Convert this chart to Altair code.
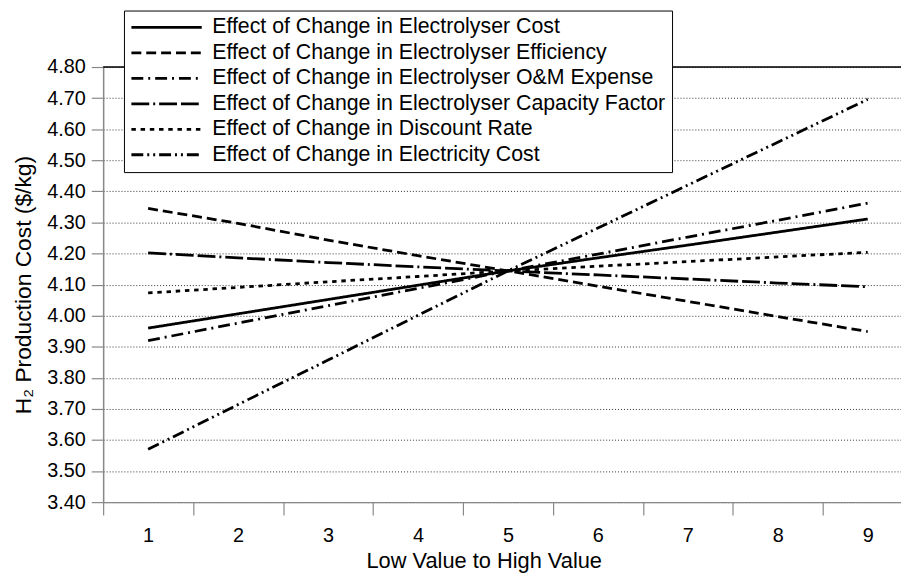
import altair as alt
import pandas as pd

x_values = [1, 2, 3, 4, 5, 6, 7, 8, 9]
series_names = [
    "Effect of Change in Electrolyser Cost",
    "Effect of Change in Electrolyser Efficiency",
    "Effect of Change in Electrolyser O&M Expense",
    "Effect of Change in Electrolyser Capacity Factor",
    "Effect of Change in Discount Rate",
    "Effect of Change in Electricity Cost",
]
electrolyser_cost = [3.960, 4.006, 4.052, 4.098, 4.144, 4.186, 4.227, 4.269, 4.311]
electrolyser_efficiency = [4.345, 4.297, 4.243, 4.193, 4.144, 4.095, 4.046, 3.997, 3.949]
electrolyser_om = [3.920, 3.976, 4.032, 4.088, 4.144, 4.198, 4.253, 4.307, 4.362]
capacity_factor = [4.202, 4.186, 4.171, 4.157, 4.144, 4.131, 4.118, 4.105, 4.093]
discount_rate = [4.073, 4.091, 4.109, 4.126, 4.144, 4.159, 4.174, 4.189, 4.204]
electricity_cost = [3.570, 3.714, 3.857, 4.001, 4.144, 4.282, 4.420, 4.558, 4.696]
y_ticks = [3.4, 3.5, 3.6, 3.7, 3.8, 3.9, 4.0, 4.1, 4.2, 4.3, 4.4, 4.5, 4.6, 4.7, 4.8]

all_series = [electrolyser_cost, electrolyser_efficiency, electrolyser_om,
              capacity_factor, discount_rate, electricity_cost]
rows = []
for name, vals in zip(series_names, all_series):
    for xv, yv in zip(x_values, vals):
        rows.append({"series": name, "x": xv, "y": yv})
df = pd.DataFrame(rows)
top_df = pd.DataFrame({"y": [y_ticks[-1]]})

dashes = [[1, 0], [10, 5], [12, 5, 2, 5], [18, 4, 2, 4, 18, 4], [4.5, 4.8], [12, 4, 2, 4, 2, 4]]
widths = [2.8, 2.8, 2.8, 2.8, 4.5, 2.8]

FONT = "Liberation Sans"
W, H = 805, 439
band = W / 8.87

legend = alt.Legend(
    title=None, orient="none", legendX=21, legendY=-57,
    symbolType="stroke", symbolSize=5041, symbolStrokeColor="black",
    clipHeight=22, rowPadding=3.7, labelFontSize=21.5, labelFont=FONT,
    labelColor="black", labelOffset=9, padding=6,
    strokeColor="black", fillColor="white", labelLimit=700,
)

y_scale = alt.Scale(domain=[3.4, 4.8], nice=False, zero=False)
y_axis = alt.Axis(values=y_ticks, format=".2f", tickSize=12, tickWidth=1.2,
                  domainWidth=1.5, labelFontSize=20, labelPadding=6,
                  labelOverlap=False, labelFlush=False,
                  grid=True, gridDash=[1, 2], gridColor="#333", gridWidth=1,
                  title="H\u2082 Production Cost ($/kg)", titleFontSize=23,
                  titleFontWeight="normal", titleX=-80, titleY=H / 2,
                  titleBaseline="middle", titleAlign="center", titleAngle=-90)

lines = alt.Chart(df).mark_line(color="black", strokeCap="butt").encode(
    x=alt.X("x:Q", scale=alt.Scale(domain=[0.5, 9.37], nice=False, zero=False),
            axis=alt.Axis(values=x_values, tickOffset=-band / 2, labelOffset=band / 2,
                          grid=False, tickSize=13, tickWidth=1.2, domainWidth=1.5,
                          labelFontSize=20, labelPadding=11, labelFlush=False,
                          labelOverlap=False,
                          title="Low Value to High Value", titleFontSize=22,
                          titleFontWeight="normal", titleX=384, titleY=59,
                          titleBaseline="middle", titleAlign="center")),
    y=alt.Y("y:Q", scale=y_scale, axis=y_axis),
    strokeDash=alt.StrokeDash("series:N", scale=alt.Scale(domain=series_names, range=dashes),
                              legend=legend, sort=series_names),
    strokeWidth=alt.StrokeWidth("series:N", scale=alt.Scale(domain=series_names, range=widths),
                                legend=legend, sort=series_names),
    detail="series:N",
)

top_rule = alt.Chart(top_df).mark_rule(color="black", strokeWidth=1.5).encode(
    y=alt.Y("y:Q", scale=y_scale, axis=y_axis)
)

chart = alt.layer(lines, top_rule).properties(
    width=W, height=H,
    autosize=alt.AutoSizeParams(type="none"),
    padding={"left": 96, "top": 57, "right": 0, "bottom": 76},
).configure_view(stroke=None).configure_axis(
    labelFont=FONT, titleFont=FONT, labelColor="black", titleColor="black",
    domainColor="black", tickColor="black",
).configure(background="white")

chart.save("out.html", embed_options={"renderer": "svg", "actions": False})
